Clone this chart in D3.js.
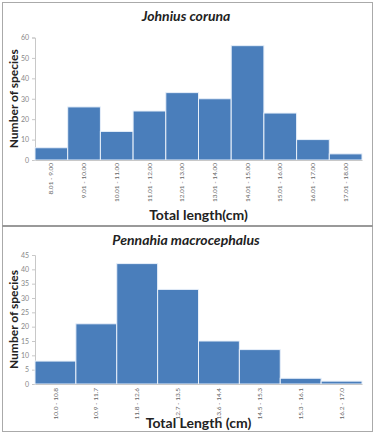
<!DOCTYPE html>
<html>
<head>
<meta charset="utf-8">
<script src="https://cdn.jsdelivr.net/npm/d3@7"></script>
<style>
  body { margin: 0; background: #fff; }
  svg { display: block; font-family: Lato, "Open Sans", sans-serif; }
</style>
</head>
<body>
<svg id="chart" width="374" height="436"></svg>
<script>
// data
let johniusBins = ["8.01 - 9.00", "9.01 - 10.00", "10.01 - 11.00", "11.01 - 12.00", "12.01 - 13.00",
                   "13.01 - 14.00", "14.01 - 15.00", "15.01 - 16.00", "16.01 - 17.00", "17.01 - 18.00"];
let johniusCounts = [6, 26, 14, 24, 33, 30, 56, 23, 10, 3];
let johniusTicks = [0, 10, 20, 30, 40, 50, 60];

let pennahiaBins = ["10.0 - 10.8", "10.9 - 11.7", "11.8 - 12.6", "12.7 - 13.5",
                    "13.6 - 14.4", "14.5 - 15.3", "15.3 - 16.1", "16.2 - 17.0"];
let pennahiaCounts = [8, 21, 42, 33, 15, 12, 2, 1];
let pennahiaTicks = [0, 5, 10, 15, 20, 25, 30, 35, 40, 45];

let svg = d3.select("#chart");

// panel frames
svg.append("rect").attr("x", 2.5).attr("y", 2.5).attr("width", 370).attr("height", 223)
    .attr("fill", "none").attr("stroke", "#aaa").attr("stroke-width", 1);
svg.append("rect").attr("x", 2.5).attr("y", 226.5).attr("width", 370).attr("height", 205)
    .attr("fill", "none").attr("stroke", "#aaa").attr("stroke-width", 1);
svg.append("line").attr("x1", 2).attr("x2", 373).attr("y1", 226).attr("y2", 226)
    .attr("stroke", "#999").attr("stroke-width", 2);

drawPanel({
    title: "Johnius coruna", titleY: 21,
    xTitle: "Total length(cm)", xTitleY: 220,
    bins: johniusBins, counts: johniusCounts, ticks: johniusTicks,
    top: 37.5, bottom: 160, max: 60, labelY: 163
});

drawPanel({
    title: "Pennahia macrocephalus", titleY: 245,
    xTitle: "Total Length (cm)", xTitleY: 428,
    bins: pennahiaBins, counts: pennahiaCounts, ticks: pennahiaTicks,
    top: 255, bottom: 384, max: 45, labelY: 388
});

function drawPanel(p) {
    let left = 35, right = 362;

    let x = d3.scaleBand().domain(p.bins).range([left, right]).padding(0);
    let y = d3.scaleLinear().domain([0, p.max]).range([p.bottom, p.top]);

    let g = svg.append("g");

    g.append("text")
        .attr("x", 186).attr("y", p.titleY)
        .attr("text-anchor", "middle")
        .style("font-size", "14px").style("font-weight", "bold").style("font-style", "italic")
        .attr("fill", "#222")
        .text(p.title);

    // y axis
    let yAxis = g.append("g")
        .attr("transform", "translate(" + left + ",0)")
        .call(d3.axisLeft(y).tickValues(p.ticks).tickSize(3).tickPadding(3));
    yAxis.select(".domain").attr("stroke", "#c8c8c8");
    yAxis.selectAll(".tick line").attr("stroke", "#c8c8c8");
    yAxis.selectAll(".tick text").attr("fill", "#888").style("font-size", "7px")
        .style("font-family", "Lato, sans-serif");

    g.append("text")
        .attr("transform", "translate(18," + ((p.top + p.bottom) / 2) + ") rotate(-90)")
        .attr("text-anchor", "middle")
        .style("font-size", "12px").style("font-weight", "bold")
        .attr("fill", "#222")
        .text("Number of species");

    // bars
    g.selectAll("rect.bar")
        .data(p.counts)
        .enter()
        .append("rect")
        .attr("class", "bar")
        .attr("x", function (d, i) { return x(p.bins[i]); })
        .attr("width", x.bandwidth())
        .attr("y", function (d) { return y(d); })
        .attr("height", function (d) { return p.bottom - y(d); })
        .attr("fill", "#4a7ebb")
        .attr("stroke", "#e8f0fa")
        .attr("stroke-width", 1);

    // x axis
    let xAxis = g.append("g")
        .attr("transform", "translate(0," + p.bottom + ")")
        .call(d3.axisBottom(x).tickSize(0).tickPadding(0));
    xAxis.select(".domain").attr("stroke", "#c8c8c8");
    xAxis.selectAll(".tick text")
        .attr("transform", "translate(0," + (p.labelY - p.bottom) + ") rotate(-90)")
        .attr("text-anchor", "end")
        .attr("x", 0).attr("y", 0).attr("dy", "0.32em")
        .attr("fill", "#666")
        .style("font-size", "6.5px")
        .style("font-family", "Lato, sans-serif");

    g.append("text")
        .attr("x", (left + right) / 2).attr("y", p.xTitleY)
        .attr("text-anchor", "middle")
        .style("font-size", "14px").style("font-weight", "bold")
        .attr("fill", "#222")
        .text(p.xTitle);
}
</script>
</body>
</html>
